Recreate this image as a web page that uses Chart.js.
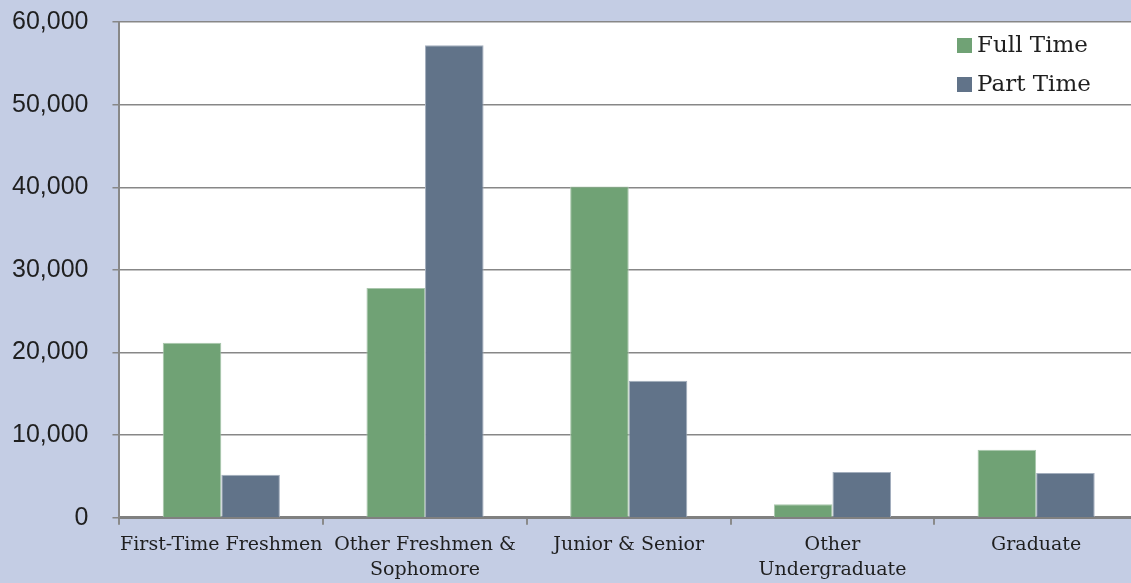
<!DOCTYPE html>
<html>
<head>
<meta charset="utf-8">
<script src="https://cdn.jsdelivr.net/npm/chart.js@4/dist/chart.umd.min.js"></script>
<style>
  html, body { margin: 0; padding: 0; background: #c4cde4; overflow: hidden; }
  #wrap { width: 1138px; height: 583px; position: relative; }
</style>
</head>
<body>
<div id="wrap"><canvas id="chart"></canvas></div>
<script>
const categories = [
  "First-Time Freshmen",
  ["Other Freshmen &", "Sophomore"],
  "Junior & Senior",
  ["Other", "Undergraduate"],
  "Graduate"
];
const fullTime = [21200, 27800, 40100, 1650, 8250];
const partTime = [5200, 57200, 16600, 5550, 5420];
const yTicks = [0, 10000, 20000, 30000, 40000, 50000, 60000];

const GREEN = "#70a275";
const SLATE = "#617389";

// white plot area on the blue page
const plotBackground = {
  id: "plotBackground",
  beforeDraw(chart) {
    const { ctx, chartArea: a } = chart;
    ctx.save();
    ctx.fillStyle = "#ffffff";
    ctx.fillRect(a.left, a.top, a.right - a.left, a.bottom - a.top);
    ctx.restore();
  }
};

// legend sits inside the plot, top right
const innerLegend = {
  id: "innerLegend",
  afterDraw(chart) {
    const ctx = chart.ctx;
    ctx.save();
    ctx.font = "23px 'DejaVu Serif'";
    ctx.textBaseline = "middle";
    chart.data.datasets.forEach((ds, i) => {
      const y = 46 + i * 39;
      ctx.fillStyle = ds.backgroundColor;
      ctx.fillRect(957, y - 8, 15, 15);
      ctx.fillStyle = "#1f1f1f";
      ctx.fillText(ds.label, 977, y);
    });
    ctx.restore();
  }
};

new Chart(document.getElementById("chart"), {
  type: "bar",
  data: {
    labels: categories,
    datasets: [
      { label: "Full Time", data: fullTime, backgroundColor: GREEN, borderColor: "#a9c6ac", borderWidth: 1 },
      { label: "Part Time", data: partTime, backgroundColor: SLATE, borderColor: "#a3aebd", borderWidth: 1 }
    ]
  },
  options: {
    responsive: true,
    maintainAspectRatio: false,
    animation: false,
    devicePixelRatio: 1,
    layout: { padding: { top: 22, right: 0, left: -12, bottom: -8 } },
    datasets: { bar: { barPercentage: 1, categoryPercentage: 0.575 } },
    plugins: { legend: { display: false }, tooltip: { enabled: false } },
    scales: {
      x: {
        grid: { drawOnChartArea: false, drawTicks: true, tickLength: 7, color: "#8a8a8a", lineWidth: 2 },
        border: { color: "#808080", width: 3 },
        ticks: {
          maxRotation: 0, minRotation: 0, autoSkip: false,
          color: "#1f1f1f", padding: 8,
          font: { family: "'DejaVu Serif'", size: 19, lineHeight: 1.32 }
        }
      },
      y: {
        min: 0, max: 60000,
        afterBuildTicks(scale) { scale.ticks = yTicks.map(v => ({ value: v })); },
        // tick padding would otherwise push the plot top down
        afterFit(scale) { scale.paddingTop = 0; scale.paddingBottom = 0; },
        grid: { color: "#878787", lineWidth: 1.5, drawTicks: true, tickLength: 7 },
        border: { color: "#888888", width: 2 },
        ticks: {
          color: "#1f1f1f", padding: 24,
          font: { family: "'Liberation Sans'", size: 25 },
          callback: v => v.toLocaleString("en-US")
        }
      }
    }
  },
  plugins: [plotBackground, innerLegend]
});
</script>
</body>
</html>
